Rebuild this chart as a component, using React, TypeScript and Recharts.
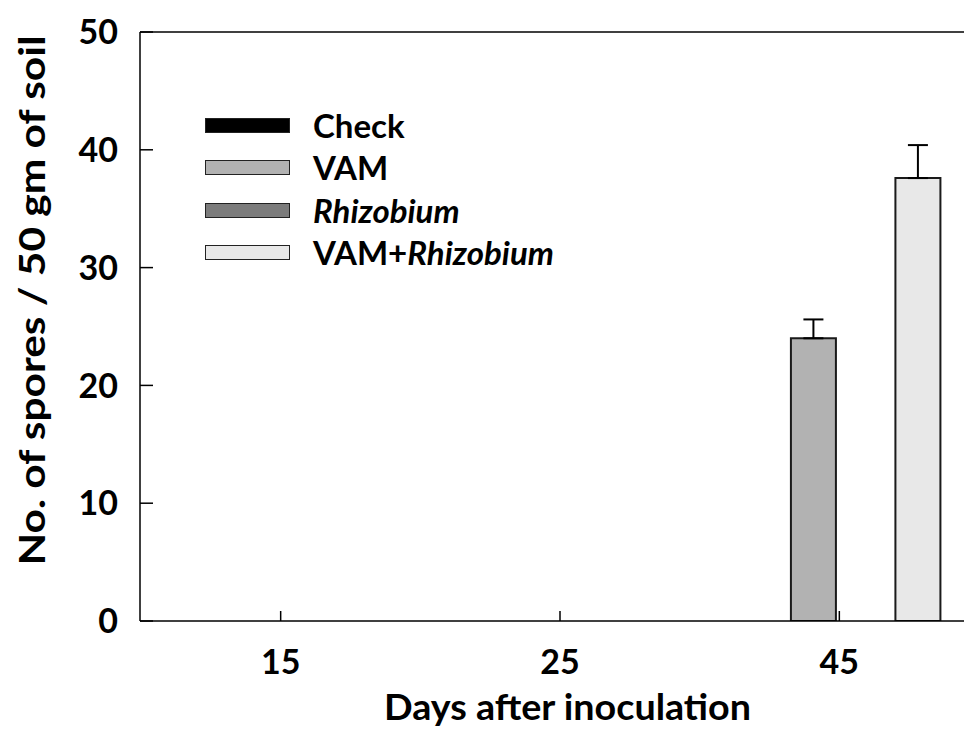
import React from 'react';
import { BarChart, Bar, XAxis, YAxis, ErrorBar, Legend, ReferenceLine } from 'recharts';

// ---- data ----
const days = ['15', '25', '45'];
const seriesNames = ['Check', 'VAM', 'Rhizobium', 'VAM+Rhizobium'];
const checkValues = [0, 0, 0];
const vamValues = [0, 0, 24.0];
const rhizobiumValues = [0, 0, 0];
const vamRhizobiumValues = [0, 0, 37.6];
const vamErrors = [0, 0, 1.6];
const vamRhizobiumErrors = [0, 0, 2.8];
const yTicks = [0, 10, 20, 30, 40, 50];

const FONT = 'Lato, "DejaVu Sans", sans-serif';
const fills = ['#000000', '#b2b2b2', '#7c7c7c', '#e8e8e8'];

const data = days.map((d, i) => ({
  day: d,
  check: checkValues[i],
  vam: vamValues[i],
  rhizobium: rhizobiumValues[i],
  vamRhizobium: vamRhizobiumValues[i],
  vamErr: [0, vamErrors[i]],
  vamRhizobiumErr: [0, vamRhizobiumErrors[i]],
}));

const renderName = (name: string) => {
  const idx = name.indexOf('Rhizobium');
  if (idx < 0) return <span>{name}</span>;
  return (
    <span>
      {name.slice(0, idx)}
      <span style={{ fontStyle: 'italic' }}>Rhizobium</span>
    </span>
  );
};

const renderLegend = () => (
  <div style={{ fontFamily: FONT, fontWeight: 700, fontSize: 33, color: '#000' }}>
    {seriesNames.map((n, i) => (
      <div key={n} style={{ display: 'flex', alignItems: 'center', height: 42.5 }}>
        <div
          style={{
            width: 85,
            height: 15,
            background: fills[i],
            border: '1.5px solid #222',
            boxSizing: 'border-box',
          }}
        />
        <div style={{ marginLeft: 23, lineHeight: '33px' }}>{renderName(n)}</div>
      </div>
    ))}
  </div>
);

const YTick = (props: any) => {
  const { x, y, payload } = props;
  return (
    <text x={x} y={y} dy="0.36em" textAnchor="end" fontFamily={FONT} fontWeight={700} fontSize={34} fill="#000">
      {payload.value}
    </text>
  );
};

const XTick = (props: any) => {
  const { x, y, payload } = props;
  return (
    <text x={x} y={y} dy="0.36em" textAnchor="middle" fontFamily={FONT} fontWeight={700} fontSize={34} fill="#000">
      {payload.value}
    </text>
  );
};

const YLabel = (props: any) => {
  const vb = props.viewBox || { x: 0, y: 32, width: 140, height: 589 };
  const cx = vb.x + 32;
  const cy = vb.y + vb.height / 2 - 26;
  return (
    <text
      x={cx}
      y={cy}
      dy="0.36em"
      textAnchor="middle"
      transform={`rotate(-90, ${cx}, ${cy})`}
      fontFamily={FONT}
      fontWeight={700}
      fontSize={36}
      textLength={530}
      lengthAdjust="spacingAndGlyphs"
      fill="#000"
    >
      No. of spores / 50 gm of soil
    </text>
  );
};

const XLabel = (props: any) => {
  const vb = props.viewBox || { x: 140, y: 621, width: 837, height: 135 };
  const cx = vb.x + vb.width / 2 + 8;
  const cy = vb.y + 86;
  return (
    <text
      x={cx}
      y={cy}
      dy="0.36em"
      textAnchor="middle"
      fontFamily={FONT}
      fontWeight={700}
      fontSize={36}
      textLength={367}
      lengthAdjust="spacingAndGlyphs"
      fill="#000"
    >
      Days after inoculation
    </text>
  );
};

export default function App() {
  return (
    <div
      style={{
        position: 'absolute',
        left: 0,
        top: 0,
        width: 964,
        height: 756,
        overflow: 'hidden',
        background: '#fff',
      }}
    >
      <BarChart
        width={1000}
        height={756}
        data={data}
        margin={{ top: 32, right: 21, bottom: 0, left: 0 }}
        barSize={45}
        barGap={7.25}
      >
        <XAxis
          dataKey="day"
          height={135}
          padding={{ left: 1, right: 0 }}
          axisLine={{ stroke: '#000', strokeWidth: 1.5 }}
          tickLine={{ stroke: '#000', strokeWidth: 1.5 }}
          tickSize={-10}
          tickMargin={51}
          tick={<XTick />}
          label={{ content: <XLabel /> } as any}
        />
        <YAxis
          width={140}
          domain={[0, 50]}
          ticks={yTicks}
          interval={0}
          allowDataOverflow
          axisLine={{ stroke: '#000', strokeWidth: 1.5 }}
          tickLine={{ stroke: '#000', strokeWidth: 1.5 }}
          tickSize={-13}
          tickMargin={35}
          tick={<YTick />}
          label={{ content: <YLabel /> } as any}
        />
        <ReferenceLine y={50} stroke="#000" strokeWidth={1.5} />
        <Legend
          layout="vertical"
          align="center"
          verticalAlign="middle"
          content={renderLegend}
          wrapperStyle={{ left: 205, top: 104, width: 420, height: 180 }}
        />
        <Bar dataKey="check" name={seriesNames[0]} fill={fills[0]} stroke="#1a1a1a" strokeWidth={2} isAnimationActive={false} />
        <Bar dataKey="vam" name={seriesNames[1]} fill={fills[1]} stroke="#1a1a1a" strokeWidth={2} isAnimationActive={false}>
          <ErrorBar dataKey="vamErr" width={10} stroke="#000" strokeWidth={2} direction="y" />
        </Bar>
        <Bar dataKey="rhizobium" name={seriesNames[2]} fill={fills[2]} stroke="#1a1a1a" strokeWidth={2} isAnimationActive={false} />
        <Bar dataKey="vamRhizobium" name={seriesNames[3]} fill={fills[3]} stroke="#1a1a1a" strokeWidth={2} isAnimationActive={false}>
          <ErrorBar dataKey="vamRhizobiumErr" width={10} stroke="#000" strokeWidth={2} direction="y" />
        </Bar>
      </BarChart>
    </div>
  );
}
